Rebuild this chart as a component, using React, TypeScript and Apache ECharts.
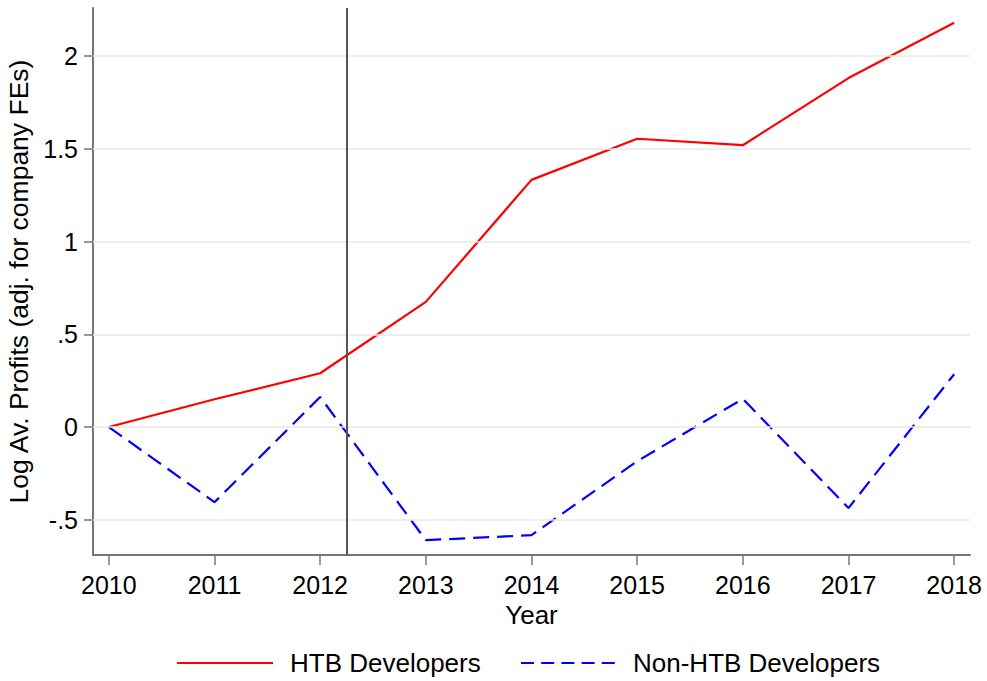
import React, { useEffect, useRef } from "react";
import * as echarts from "echarts";

const years = [2010, 2011, 2012, 2013, 2014, 2015, 2016, 2017, 2018];
const htb = [0, 0.15, 0.29, 0.675, 1.333, 1.555, 1.52, 1.882, 2.18];
const nonHtb = [0, -0.405, 0.162, -0.61, -0.583, -0.184, 0.152, -0.437, 0.285];
const yTicks = [-0.5, 0, 0.5, 1, 1.5, 2];
const policyYear = 2012.25;
const seriesNames = ["HTB Developers", "Non-HTB Developers"];

const fmtY = (v: number) => {
  const s = String(v);
  return s.replace(/^0\./, ".").replace(/^-0\./, "-.");
};

export default function App() {
  const ref = useRef<HTMLDivElement>(null);
  useEffect(() => {
    if (!ref.current) return;
    const chart = echarts.init(ref.current, undefined, { renderer: "svg" });
    const font = "Liberation Sans, Arial, sans-serif";
    const legendY = 663;
    chart.setOption({
      animation: false,
      backgroundColor: "#fff",
      grid: { left: 93, right: 17, top: 8, bottom: 126, containLabel: false, outerBoundsMode: "none" },
      xAxis: {
        type: "value",
        min: 2009.85,
        max: 2018.15,
        name: "Year",
        nameLocation: "middle",
        nameGap: 38,
        nameTextStyle: { fontFamily: font, fontSize: 26, color: "#000" },
        axisLine: { show: true, onZero: false, lineStyle: { color: "#777", width: 2 } },
        axisTick: { show: true, customValues: years, length: 10, lineStyle: { color: "#777", width: 1.5 } },
        axisLabel: {
          customValues: years,
          fontFamily: font,
          fontSize: 25,
          color: "#000",
          margin: 17,
          formatter: (v: number) => String(v),
        },
        splitLine: { show: false },
      },
      yAxis: {
        type: "value",
        min: -0.69,
        max: 2.26,
        name: "Log Av. Profits (adj. for company FEs)",
        nameLocation: "middle",
        nameGap: 52,
        nameRotate: 90,
        nameTextStyle: { fontFamily: font, fontSize: 26.5, color: "#000" },
        axisLine: { show: true, onZero: false, lineStyle: { color: "#777", width: 2 } },
        axisTick: { show: true, customValues: yTicks, length: 9, lineStyle: { color: "#777", width: 1.5 } },
        axisLabel: {
          customValues: yTicks,
          fontFamily: font,
          fontSize: 25,
          color: "#000",
          margin: 15,
          formatter: (v: number) => fmtY(v),
        },
        splitLine: { show: false },
      },
      graphic: [
        {
          type: "line",
          shape: { x1: 177, y1: legendY, x2: 273, y2: legendY },
          style: { stroke: "#ff0000", lineWidth: 2.2 },
        },
        {
          type: "text",
          x: 290,
          y: legendY,
          style: {
            text: seriesNames[0],
            fontFamily: font,
            fontSize: 26,
            fill: "#000",
            textVerticalAlign: "middle",
          },
        },
        {
          type: "line",
          shape: { x1: 521, y1: legendY, x2: 615, y2: legendY },
          style: { stroke: "#0000ff", lineWidth: 2.2, lineDash: [13, 7.2] },
        },
        {
          type: "text",
          x: 633,
          y: legendY,
          style: {
            text: seriesNames[1],
            fontFamily: font,
            fontSize: 26,
            fill: "#000",
            textVerticalAlign: "middle",
          },
        },
      ],
      series: [
        {
          name: "grid",
          type: "line",
          data: [],
          silent: true,
          markLine: {
            silent: true,
            symbol: "none",
            label: { show: false },
            lineStyle: { color: "#e8e8e8", width: 1.5, type: "solid" },
            data: yTicks.map((v) => ({ yAxis: v })),
          },
        },
        {
          name: seriesNames[0],
          type: "line",
          data: years.map((y, i) => [y, htb[i]]),
          symbol: "none",
          lineStyle: { color: "#ff0000", width: 2.2 },
          itemStyle: { color: "#ff0000" },
          z: 3,
        },
        {
          name: seriesNames[1],
          type: "line",
          data: years.map((y, i) => [y, nonHtb[i]]),
          symbol: "none",
          lineStyle: { color: "#0000ff", width: 2.2, type: [16, 8] },
          itemStyle: { color: "#0000ff" },
          z: 3,
        },
        {
          name: "policy",
          type: "line",
          data: [],
          markLine: {
            silent: true,
            symbol: "none",
            label: { show: false },
            lineStyle: { color: "#555", width: 2, type: "solid" },
            data: [{ xAxis: policyYear }],
          },
          z: 4,
        },
      ],
    });
    return () => chart.dispose();
  }, []);
  return <div ref={ref} style={{ width: 987, height: 681, position: "absolute", left: 0, top: 0 }} />;
}
